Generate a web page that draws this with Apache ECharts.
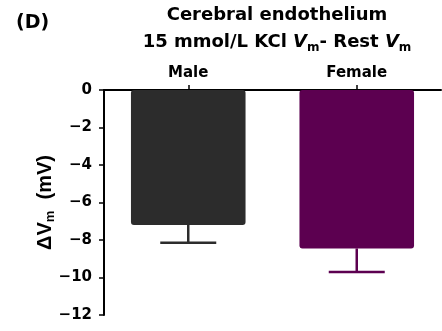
<!DOCTYPE html>
<html><head><meta charset="utf-8">
<script src="https://cdn.jsdelivr.net/npm/echarts@6/dist/echarts.min.js"></script>
<style>html,body{margin:0;padding:0;background:#fff}#c{width:442px;height:331px}</style>
</head><body><div id="c"></div>
<script>
const categories = ['Male', 'Female'];
const meanValues = [-7.2, -8.45];
const errorLow = [-8.15, -9.7];
const barColors = ['#2c2c2c', '#5c0050'];
const yTicks = [0, -2, -4, -6, -8, -10, -12];

const chart = echarts.init(document.getElementById('c'));
const F = 'DejaVu Sans, sans-serif';
const FA = 'Liberation Sans, Arial, sans-serif';
chart.setOption({
  animation: false,
  backgroundColor: '#fff',
  title: [{
    text: '(D)', left: 11, top: 9,
    textStyle: { fontFamily: F, fontWeight: 'bold', fontSize: 19, color: '#000' }
  }, {
    text: '{b|Cerebral endothelium}\n{b|15 mmol/L KCl }{i|V}{s|m}{b|- Rest }{i|V}{s|m}',
    left: 272, top: -3, textAlign: 'center',
    textStyle: {
      rich: {
        b: { fontFamily: F, fontWeight: 'bold', fontSize: 18, color: '#000', lineHeight: 27 },
        i: { fontFamily: F, fontWeight: 'bold', fontStyle: 'italic', fontSize: 18, color: '#000', lineHeight: 27 },
        s: { fontFamily: F, fontWeight: 'bold', fontSize: 12, color: '#000', lineHeight: 27, padding: [10, 0, 0, 0] }
      }
    }
  }],
  grid: { left: 104, right: 1, top: 90, bottom: 16 },
  xAxis: {
    type: 'category', data: categories, position: 'top',
    axisLine: { lineStyle: { color: '#000', width: 2 } },
    axisTick: { show: true, alignWithLabel: true, length: 5, lineStyle: { color: '#000', width: 1.5 } },
    axisLabel: { fontFamily: F, fontWeight: 'bold', fontSize: 15, color: '#000', margin: 9 },
    splitLine: { show: false }
  },
  yAxis: {
    type: 'value', min: -12, max: 0, interval: 2,
    axisLine: { show: true, lineStyle: { color: '#000', width: 2 } },
    axisTick: { show: true, length: 5, lineStyle: { color: '#000', width: 1.5 } },
    axisLabel: { fontFamily: F, fontWeight: 'bold', fontSize: 15, color: '#000', margin: 12,
      formatter: v => String(v).replace('-', '\u2212') },
    splitLine: { show: false },
    name: '{a|\u0394}{i|V}{s|m}{a|  (mV)}',
    nameLocation: 'middle', nameRotate: 90, nameGap: 47, nameMoveOverlap: false,
    nameTextStyle: {
      rich: {
        a: { fontFamily: FA, fontWeight: 'bold', fontSize: 20, color: '#000' },
        i: { fontFamily: FA, fontWeight: 'bold', fontSize: 20, color: '#000' },
        s: { fontFamily: FA, fontWeight: 'bold', fontSize: 13, color: '#000', padding: [10, 0, 0, 0] }
      }
    }
  },
  series: [{
    type: 'bar', barWidth: '68%',
    data: meanValues.map((v, i) => ({ value: v, itemStyle: { color: barColors[i], borderRadius: 3 } })),
    z: 2
  }, {
    type: 'custom', z: 3,
    data: meanValues.map((v, i) => [i, v, errorLow[i]]),
    renderItem: (params, api) => {
      const top = api.coord([api.value(0), api.value(1)]);
      const bot = api.coord([api.value(0), api.value(2)]);
      const col = barColors[params.dataIndex];
      const hw = 28;
      return { type: 'group', children: [
        { type: 'line', shape: { x1: top[0], y1: top[1], x2: bot[0], y2: bot[1] }, style: { stroke: col, lineWidth: 2.5 } },
        { type: 'line', shape: { x1: bot[0] - hw, y1: bot[1], x2: bot[0] + hw, y2: bot[1] }, style: { stroke: col, lineWidth: 2.5 } }
      ] };
    }
  }]
});
</script></body></html>
